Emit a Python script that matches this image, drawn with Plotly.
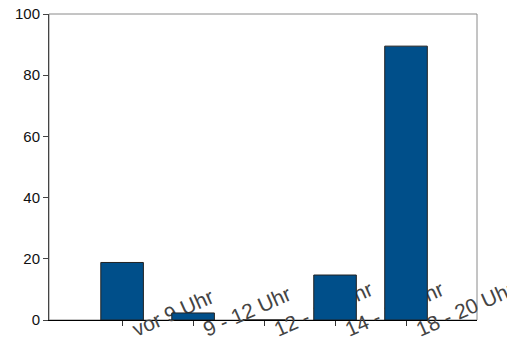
import plotly.graph_objects as go

# Time slots and share of answers (%)
categories = ["vor 9 Uhr", "9 - 12 Uhr", "12 - 14 Uhr", "14 - 18 Uhr", "18 - 20 Uhr"]
values = [18.8, 2.3, 0, 14.7, 89.5]
positions = [1, 2, 3, 4, 5]
y_ticks = [0, 20, 40, 60, 80, 100]

fig = go.Figure(
    go.Bar(
        x=positions,
        y=values,
        width=0.6,
        marker=dict(color="#004f8a", line=dict(color="#222222", width=1)),
    )
)

fig.update_layout(
    width=507,
    height=344,
    margin=dict(l=49, r=30, t=14, b=24),
    paper_bgcolor="white",
    plot_bgcolor="white",
    showlegend=False,
    font=dict(family="Liberation Sans, Arial, sans-serif", color="#111111"),
    shapes=[
        dict(type="rect", xref="paper", yref="paper", x0=0, x1=1, y0=0, y1=1,
             line=dict(color="#8a8a8a", width=1), layer="below"),
    ],
)

# Labels start at their tick and rise to the right, drawn beneath the bars
fig.update_xaxes(
    range=[-0.03, 6.0],
    tickmode="array",
    tickvals=positions,
    ticktext=categories,
    tickangle=-24,
    ticklabelposition="inside",
    ticklabeloverflow="allow",
    ticklabelshift=10,
    ticklabelstandoff=-21,
    ticks="outside",
    ticklen=5,
    tickcolor="#333333",
    tickfont=dict(size=21),
    showline=True,
    linecolor="#000000",
    linewidth=1,
    showgrid=False,
    zeroline=False,
    automargin=False,
    layer="below traces",
)

fig.update_yaxes(
    range=[0, 100],
    tickmode="array",
    tickvals=y_ticks,
    ticks="outside",
    ticklen=5,
    tickcolor="#444444",
    tickfont=dict(size=15),
    showline=True,
    linecolor="#444444",
    linewidth=1,
    showgrid=False,
    zeroline=False,
    automargin=False,
)

fig.write_html("out.html")
